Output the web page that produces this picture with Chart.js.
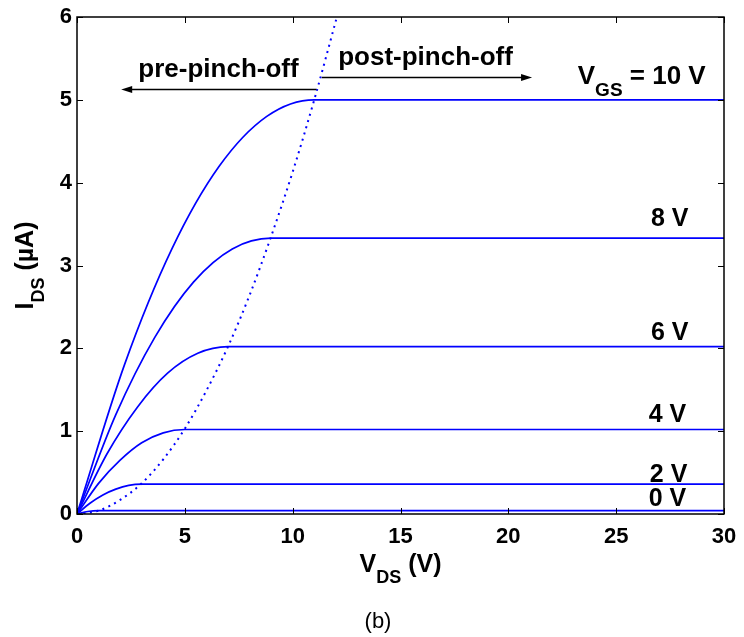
<!DOCTYPE html>
<html>
<head>
<meta charset="utf-8">
<script src="https://cdn.jsdelivr.net/npm/chart.js@4/dist/chart.umd.min.js"></script>
<style>
  html, body { margin: 0; padding: 0; background: #fff; }
  #wrap { width: 744px; height: 637px; }
</style>
</head>
<body>
<div id="wrap"><canvas id="ivChart" width="744" height="637"></canvas></div>
<script>
// output characteristics, V_DS (V) vs I_DS (uA), one curve per gate voltage
const vds10 = [0, 2.2, 4.4, 6.6, 8.8, 11, 30];
const ids10 = [0, 1.8, 3.2, 4.2, 4.8, 5.0, 5.0];
const vds8 = [0, 1.8, 3.6, 5.4, 7.2, 9, 30];
const ids8 = [0, 1.2, 2.13, 2.8, 3.2, 3.33, 3.33];
const vds6 = [0, 1.4, 2.8, 4.2, 5.6, 7, 30];
const ids6 = [0, 0.73, 1.29, 1.7, 1.94, 2.02, 2.02];
const vds4 = [0, 1, 2, 3, 4, 5, 30];
const ids4 = [0, 0.37, 0.65, 0.86, 0.98, 1.02, 1.02];
const vds2 = [0, 0.6, 1.2, 1.8, 2.4, 3, 30];
const ids2 = [0, 0.13, 0.23, 0.3, 0.345, 0.36, 0.36];
const vds0 = [0, 0.5, 1, 30];
const ids0 = [0, 0.03, 0.04, 0.04];

// pinch-off boundary (dotted)
const vdsPinch = [0, 1, 2, 3, 4, 5, 6, 7, 8, 9, 10, 11, 12.05];
const idsPinch = [0, 0.04, 0.17, 0.37, 0.66, 1.03, 1.49, 2.02, 2.64, 3.35, 4.13, 5.0, 6.0];

const curveLabels = ['8 V', '6 V', '4 V', '2 V', '0 V'];
const xTicks = [0, 5, 10, 15, 20, 25, 30];
const yTicks = [0, 1, 2, 3, 4, 5, 6];

// where the gate voltage labels sit (data units)
const labelAt = [[28.35, 3.48], [28.35, 2.10], [28.25, 1.11], [28.3, 0.39], [28.25, 0.10]];

const FONT = "'Liberation Sans', Arial, Helvetica, sans-serif";

function pts(xs, ys) {
  return xs.map((v, i) => ({ x: v, y: ys[i] }));
}

function curve(xs, ys) {
  return {
    data: pts(xs, ys),
    borderColor: '#0000ff',
    borderWidth: 1.7,
    pointRadius: 0,
    showLine: true,
    cubicInterpolationMode: 'monotone',
    fill: false
  };
}

// text with a subscript part, parts = [[text, isSub], ...]
function drawParts(ctx, x, y, parts, size, subSize, subDrop, align) {
  let w = 0;
  parts.forEach(p => {
    ctx.font = 'bold ' + (p[1] ? subSize : size) + 'px ' + FONT;
    w += ctx.measureText(p[0]).width;
  });
  let cx = align === 'center' ? x - w / 2 : x;
  ctx.textAlign = 'left';
  ctx.textBaseline = 'alphabetic';
  parts.forEach(p => {
    ctx.font = 'bold ' + (p[1] ? subSize : size) + 'px ' + FONT;
    ctx.fillText(p[0], cx, y + (p[1] ? subDrop : 0));
    cx += ctx.measureText(p[0]).width;
  });
}

function arrow(ctx, x1, y, x2) {
  const dir = x2 > x1 ? 1 : -1;
  ctx.beginPath();
  ctx.moveTo(x1, y);
  ctx.lineTo(x2 - dir * 9, y);
  ctx.lineWidth = 1.5;
  ctx.stroke();
  ctx.beginPath();
  ctx.moveTo(x2, y);
  ctx.lineTo(x2 - dir * 11, y - 3.5);
  ctx.lineTo(x2 - dir * 11, y + 3.5);
  ctx.closePath();
  ctx.fill();
}

const decorations = {
  id: 'decorations',
  afterDatasetsDraw(chart) {
    const ctx = chart.ctx;
    const a = chart.chartArea;
    const x = chart.scales.x, y = chart.scales.y;
    ctx.save();
    ctx.strokeStyle = '#000';
    ctx.fillStyle = '#000';

    // box and inward ticks on all sides
    ctx.lineWidth = 1.5;
    ctx.strokeRect(a.left, a.top, a.right - a.left, a.bottom - a.top);
    ctx.lineWidth = 1;
    ctx.beginPath();
    xTicks.forEach(v => {
      const px = Math.round(x.getPixelForValue(v)) + 0.5;
      ctx.moveTo(px, a.bottom); ctx.lineTo(px, a.bottom - 6);
      ctx.moveTo(px, a.top); ctx.lineTo(px, a.top + 6);
    });
    yTicks.forEach(v => {
      const py = Math.round(y.getPixelForValue(v)) + 0.5;
      ctx.moveTo(a.left, py); ctx.lineTo(a.left + 6, py);
      ctx.moveTo(a.right, py); ctx.lineTo(a.right - 6, py);
    });
    ctx.stroke();

    // pre / post pinch-off arrows
    ctx.font = 'bold 26px ' + FONT;
    ctx.textAlign = 'center';
    ctx.textBaseline = 'alphabetic';
    ctx.fillText('pre-pinch-off', x.getPixelForValue(6.56), y.getPixelForValue(5.27));
    arrow(ctx, x.getPixelForValue(11.1), Math.round(y.getPixelForValue(5.136)) + 0.5, x.getPixelForValue(2.05));
    ctx.fillText('post-pinch-off', x.getPixelForValue(16.16), y.getPixelForValue(5.42));
    arrow(ctx, x.getPixelForValue(11.35), Math.round(y.getPixelForValue(5.28)) + 0.5, x.getPixelForValue(21.1));

    // gate voltage labels
    drawParts(ctx, x.getPixelForValue(23.22), y.getPixelForValue(5.19),
      [['V', false], ['GS', true], [' = 10 V', false]], 26, 19, 12, 'left');
    ctx.font = 'bold 25px ' + FONT;
    ctx.textAlign = 'right';
    curveLabels.forEach((t, i) => {
      ctx.fillText(t, x.getPixelForValue(labelAt[i][0]), y.getPixelForValue(labelAt[i][1]));
    });
    ctx.restore();
  },
  afterDraw(chart) {
    const ctx = chart.ctx;
    const a = chart.chartArea;
    ctx.save();
    ctx.fillStyle = '#000';
    const cx = (a.left + a.right) / 2;
    drawParts(ctx, cx, 572, [['V', false], ['DS', true], [' (V)', false]], 25, 18, 11, 'center');

    ctx.translate(33, (a.top + a.bottom) / 2);
    ctx.rotate(-Math.PI / 2);
    drawParts(ctx, 0, 0, [['I', false], ['DS', true], [' (\u00b5A)', false]], 25, 18, 11, 'center');
    ctx.restore();

    ctx.save();
    ctx.fillStyle = '#000';
    ctx.font = '22px ' + FONT;
    ctx.textAlign = 'center';
    ctx.textBaseline = 'alphabetic';
    ctx.fillText('(b)', 378, 628);
    ctx.restore();
  }
};

const ctx = document.getElementById('ivChart').getContext('2d');
new Chart(ctx, {
  type: 'scatter',
  data: {
    datasets: [
      curve(vds10, ids10),
      curve(vds8, ids8),
      curve(vds6, ids6),
      curve(vds4, ids4),
      curve(vds2, ids2),
      curve(vds0, ids0),
      {
        data: pts(vdsPinch, idsPinch),
        borderColor: '#0000ff',
        borderWidth: 2,
        borderDash: [2, 4.5],
        pointRadius: 0,
        showLine: true,
        cubicInterpolationMode: 'monotone',
        fill: false
      }
    ]
  },
  options: {
    responsive: false,
    animation: false,
    devicePixelRatio: 1,
    layout: { autoPadding: false, padding: { top: 17, right: 20, left: 0, bottom: 0 } },
    plugins: {
      legend: { display: false },
      tooltip: { enabled: false }
    },
    scales: {
      x: {
        type: 'linear',
        min: 0,
        max: 30,
        // fixed plot box: no extra room reserved for the end labels
        afterFit: s => { s.height = 123; s.paddingLeft = 0; s.paddingRight = 0; },
        afterBuildTicks: s => { s.ticks = xTicks.map(v => ({ value: v })); },
        grid: { display: false, drawTicks: false },
        border: { display: false },
        ticks: {
          color: '#000',
          padding: 10,
          maxRotation: 0,
          font: { family: FONT, size: 22, weight: 'bold' }
        }
      },
      y: {
        type: 'linear',
        min: 0,
        max: 6,
        afterFit: s => { s.width = 77; s.paddingTop = 0; s.paddingBottom = 0; },
        afterBuildTicks: s => { s.ticks = yTicks.map(v => ({ value: v })); },
        grid: { display: false, drawTicks: false },
        border: { display: false },
        ticks: {
          color: '#000',
          padding: 5,
          font: { family: FONT, size: 22, weight: 'bold' }
        }
      }
    }
  },
  plugins: [decorations]
});
</script>
</body>
</html>
